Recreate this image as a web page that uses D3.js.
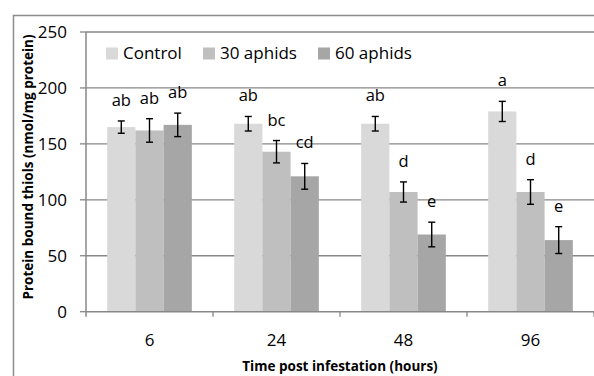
<!DOCTYPE html>
<html>
<head>
<meta charset="utf-8">
<script src="https://cdn.jsdelivr.net/npm/d3@7"></script>
<style>
  body { margin: 0; background: #fff; }
  svg { display: block; font-family: "Open Sans", sans-serif; }
</style>
</head>
<body>
<div id="chart"></div>
<script>
// data
var categories = ["6", "24", "48", "96"];
var seriesNames = ["Control", "30 aphids", "60 aphids"];
var controlVals = [165, 168, 168, 179];
var aphids30Vals = [162, 143, 107, 107];
var aphids60Vals = [167, 121, 69, 64];
var controlErr = [5.5, 6.5, 6.5, 9];
var aphids30Err = [10.5, 10, 9, 11];
var aphids60Err = [10.5, 11.5, 11, 12];
var controlLetters = ["ab", "ab", "ab", "a"];
var aphids30Letters = ["ab", "bc", "d", "d"];
var aphids60Letters = ["ab", "cd", "e", "e"];
var yTicks = [0, 50, 100, 150, 200, 250];

var width = 594, height = 376;
var colors = ["#d9d9d9", "#bfbfbf", "#a6a6a6"];
var gridColor = "#878787";

var plot = {left: 86, top: 32, right: 594, bottom: 311.7};

var svg = d3.select("#chart").append("svg")
    .attr("width", width)
    .attr("height", height);

// outer chart border (cropped at right/bottom)
svg.append("path")
    .attr("d", "M13.5," + height + "V15.5H" + width)
    .attr("fill", "none")
    .attr("stroke", "#8c8c8c")
    .attr("stroke-width", 1.5);

var y = d3.scaleLinear().domain([0, 250]).range([plot.bottom, plot.top]);
var x0 = d3.scaleBand().domain(categories).range([plot.left, plot.right]).padding(0);
var x1 = d3.scaleBand().domain(seriesNames).range([0, x0.bandwidth()])
    .paddingInner(0).paddingOuter(0.75);

// gridlines
svg.append("g").selectAll("line")
    .data(yTicks.filter(function(d) { return d > 0; }))
    .enter().append("line")
    .attr("x1", plot.left).attr("x2", plot.right)
    .attr("y1", function(d) { return y(d); })
    .attr("y2", function(d) { return y(d); })
    .attr("stroke", gridColor)
    .attr("stroke-width", 1.3);

// build rows
var rows = [];
var vals = [controlVals, aphids30Vals, aphids60Vals];
var errs = [controlErr, aphids30Err, aphids60Err];
var letters = [controlLetters, aphids30Letters, aphids60Letters];
categories.forEach(function(c, i) {
    seriesNames.forEach(function(s, j) {
        rows.push({cat: c, series: s, idx: j, value: vals[j][i], err: errs[j][i], letter: letters[j][i]});
    });
});

// bars
svg.append("g").selectAll("rect")
    .data(rows)
    .enter().append("rect")
    .attr("x", function(d) { return x0(d.cat) + x1(d.series); })
    .attr("width", x1.bandwidth())
    .attr("y", function(d) { return y(d.value); })
    .attr("height", function(d) { return y(0) - y(d.value); })
    .attr("fill", function(d) { return colors[d.idx]; });

// error bars
var eb = svg.append("g").attr("stroke", "#000").attr("stroke-width", 1.4);
rows.forEach(function(d) {
    var cx = x0(d.cat) + x1(d.series) + x1.bandwidth() / 2;
    var top = y(d.value + d.err), bot = y(d.value - d.err);
    eb.append("line").attr("x1", cx).attr("x2", cx).attr("y1", top).attr("y2", bot);
    eb.append("line").attr("x1", cx - 3.5).attr("x2", cx + 3.5).attr("y1", top).attr("y2", top);
    eb.append("line").attr("x1", cx - 3.5).attr("x2", cx + 3.5).attr("y1", bot).attr("y2", bot);
});

// significance letters
svg.append("g").selectAll("text")
    .data(rows)
    .enter().append("text")
    .attr("x", function(d) { return x0(d.cat) + x1(d.series) + x1.bandwidth() / 2; })
    .attr("y", function(d) { return y(d.value + d.err) - 15; })
    .attr("text-anchor", "middle")
    .attr("font-size", 16.5)
    .attr("fill", "#000")
    .text(function(d) { return d.letter; });

// axes lines
svg.append("line")
    .attr("x1", plot.left).attr("x2", plot.left)
    .attr("y1", plot.top).attr("y2", plot.bottom + 5)
    .attr("stroke", gridColor).attr("stroke-width", 1.5);
svg.append("line")
    .attr("x1", plot.left).attr("x2", plot.right)
    .attr("y1", plot.bottom).attr("y2", plot.bottom)
    .attr("stroke", gridColor).attr("stroke-width", 1.5);

// y ticks
var yt = svg.append("g");
yTicks.forEach(function(t) {
    yt.append("line")
        .attr("x1", plot.left - 6).attr("x2", plot.left)
        .attr("y1", y(t)).attr("y2", y(t))
        .attr("stroke", gridColor).attr("stroke-width", 1.3);
    yt.append("text")
        .attr("x", 67).attr("y", y(t) + 6)
        .attr("text-anchor", "end")
        .attr("font-size", 17)
        .attr("fill", "#000")
        .text(t);
});

// x ticks at category boundaries
var bounds = categories.map(function(c) { return x0(c); }).concat([plot.right]);
svg.append("g").selectAll("line")
    .data(bounds.slice(1))
    .enter().append("line")
    .attr("x1", function(d) { return d; }).attr("x2", function(d) { return d; })
    .attr("y1", plot.bottom).attr("y2", plot.bottom + 5)
    .attr("stroke", gridColor).attr("stroke-width", 1.3);

svg.append("g").selectAll("text")
    .data(categories)
    .enter().append("text")
    .attr("x", function(d) { return x0(d) + x0.bandwidth() / 2; })
    .attr("y", 346)
    .attr("text-anchor", "middle")
    .attr("font-size", 17)
    .attr("fill", "#000")
    .text(function(d) { return d; });

// axis titles
svg.append("text")
    .attr("x", (plot.left + plot.right) / 2)
    .attr("y", 371)
    .attr("text-anchor", "middle")
    .attr("font-size", 13.5)
    .attr("font-weight", "bold")
    .text("Time post infestation (hours)");

svg.append("text")
    .attr("transform", "translate(32.5,167) rotate(-90)")
    .attr("text-anchor", "middle")
    .attr("font-size", 13.5)
    .attr("font-weight", "bold")
    .text("Protein bound thiols (nmol/mg protein)");

// legend
var legendX = [106, 203, 318];
var legend = svg.append("g").selectAll("g")
    .data(seriesNames)
    .enter().append("g")
    .attr("transform", function(d, i) { return "translate(" + legendX[i] + ",47.5)"; });
legend.append("rect")
    .attr("width", 12).attr("height", 12)
    .attr("fill", function(d, i) { return colors[i]; });
legend.append("text")
    .attr("x", 17).attr("y", 11.5)
    .attr("font-size", 17)
    .attr("fill", "#000")
    .text(function(d) { return d; });
</script>
</body>
</html>
